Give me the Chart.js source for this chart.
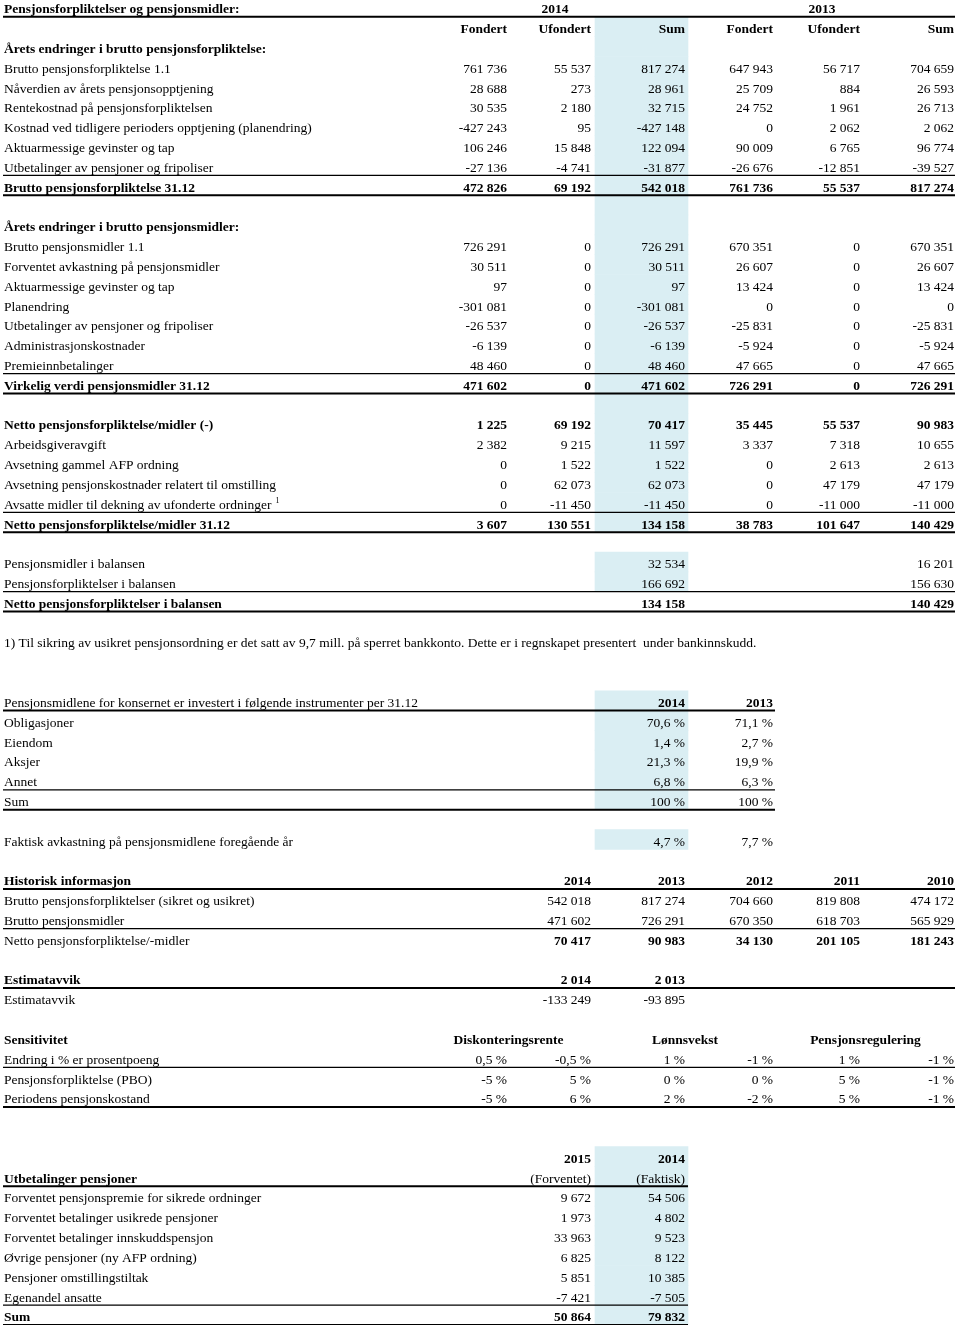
<!DOCTYPE html>
<html lang="no">
<head>
<meta charset="UTF-8" />
<title>Pensjonsforpliktelser og pensjonsmidler</title>
<script src="https://cdn.jsdelivr.net/npm/chart.js"></script>
<style>
    body { margin: 0; background: #fff; overflow: hidden; }
    #wrap { position: absolute; left: 0; top: -3px; width: 960px; height: 1328px; }
</style>
</head>
<body>
<div id="wrap"><canvas id="table"></canvas></div>
<script>
// --- data ---
const title = 'Pensjonsforpliktelser og pensjonsmidler:';
const hdrYears = ['2014', '2013'];
const colHeads = ['Fondert', 'Ufondert', 'Sum', 'Fondert', 'Ufondert', 'Sum'];

const oblLabels = ['Brutto pensjonsforpliktelse 1.1', 'Nåverdien av årets pensjonsopptjening',
    'Rentekostnad på pensjonsforpliktelsen', 'Kostnad ved tidligere perioders opptjening (planendring)',
    'Aktuarmessige gevinster og tap', 'Utbetalinger av pensjoner og fripoliser', 'Brutto pensjonsforpliktelse 31.12'];
const oblFondert14 = [761736, 28688, 30535, -427243, 106246, -27136, 472826];
const oblUfondert14 = [55537, 273, 2180, 95, 15848, -4741, 69192];
const oblSum14 = [817274, 28961, 32715, -427148, 122094, -31877, 542018];
const oblFondert13 = [647943, 25709, 24752, 0, 90009, -26676, 761736];
const oblUfondert13 = [56717, 884, 1961, 2062, 6765, -12851, 55537];
const oblSum13 = [704659, 26593, 26713, 2062, 96774, -39527, 817274];

const midLabels = ['Brutto pensjonsmidler 1.1', 'Forventet avkastning på pensjonsmidler', 'Aktuarmessige gevinster og tap',
    'Planendring', 'Utbetalinger av pensjoner og fripoliser', 'Administrasjonskostnader', 'Premieinnbetalinger',
    'Virkelig verdi pensjonsmidler 31.12'];
const midFondert14 = [726291, 30511, 97, -301081, -26537, -6139, 48460, 471602];
const midUfondert14 = [0, 0, 0, 0, 0, 0, 0, 0];
const midSum14 = [726291, 30511, 97, -301081, -26537, -6139, 48460, 471602];
const midFondert13 = [670351, 26607, 13424, 0, -25831, -5924, 47665, 726291];
const midUfondert13 = [0, 0, 0, 0, 0, 0, 0, 0];
const midSum13 = [670351, 26607, 13424, 0, -25831, -5924, 47665, 726291];

const netLabels = ['Netto pensjonsforpliktelse/midler (-)', 'Arbeidsgiveravgift', 'Avsetning gammel AFP ordning',
    'Avsetning pensjonskostnader relatert til omstilling', 'Avsatte midler til dekning av ufonderte ordninger',
    'Netto pensjonsforpliktelse/midler 31.12'];
const netFondert14 = [1225, 2382, 0, 0, 0, 3607];
const netUfondert14 = [69192, 9215, 1522, 62073, -11450, 130551];
const netSum14 = [70417, 11597, 1522, 62073, -11450, 134158];
const netFondert13 = [35445, 3337, 0, 0, 0, 38783];
const netUfondert13 = [55537, 7318, 2613, 47179, -11000, 101647];
const netSum13 = [90983, 10655, 2613, 47179, -11000, 140429];

const balLabels = ['Pensjonsmidler i balansen', 'Pensjonsforpliktelser i balansen', 'Netto pensjonsforpliktelser i balansen'];
const bal2014 = [32534, 166692, 134158];
const bal2013 = [16201, 156630, 140429];

const footnote = '1) Til sikring av usikret pensjonsordning er det satt av 9,7 mill. på sperret bankkonto. Dette er i regnskapet presentert  under bankinnskudd.';

const instTitle = 'Pensjonsmidlene for konsernet er investert i følgende instrumenter per 31.12';
const instLabels = ['Obligasjoner', 'Eiendom', 'Aksjer', 'Annet', 'Sum'];
const inst2014 = [70.6, 1.4, 21.3, 6.8, 100];
const inst2013 = [71.1, 2.7, 19.9, 6.3, 100];
const returnLabel = 'Faktisk avkastning på pensjonsmidlene foregående år';
const returnPct = [4.7, 7.7];

const histYears = [2014, 2013, 2012, 2011, 2010];
const histLabels = ['Brutto pensjonsforpliktelser (sikret og usikret)', 'Brutto pensjonsmidler', 'Netto pensjonsforpliktelse/-midler'];
const histObligations = [542018, 817274, 704660, 819808, 474172];
const histAssets = [471602, 726291, 670350, 618703, 565929];
const histNet = [70417, 90983, 34130, 201105, 181243];

const estYears = [2014, 2013];
const estValues = [-133249, -93895];

const sensGroups = ['Diskonteringsrente', 'Lønnsvekst', 'Pensjonsregulering'];
const sensLabels = ['Endring i % er prosentpoeng', 'Pensjonsforpliktelse (PBO)', 'Periodens pensjonskostand'];
const sensChange = [0.5, -0.5, 1, -1, 1, -1];
const sensPBO = [-5, 5, 0, 0, 5, -1];
const sensCost = [-5, 6, 2, -2, 5, -1];

const payYears = ['2015', '2014'];
const payKinds = ['(Forventet)', '(Faktisk)'];
const payLabels = ['Forventet pensjonspremie for sikrede ordninger', 'Forventet betalinger usikrede pensjoner',
    'Forventet betalinger innskuddspensjon', 'Øvrige pensjoner (ny AFP ordning)', 'Pensjoner omstillingstiltak',
    'Egenandel ansatte', 'Sum'];
const pay2015 = [9672, 1973, 33963, 6825, 5851, -7421, 50864];
const pay2014 = [54506, 4802, 9523, 8122, 10385, -7505, 79832];

// --- layout (table units on the x scale) ---
const COL_RIGHT = [507, 591, 685, 773, 860, 954];
const COL_EDGE = [422, 510, 595, 688, 775, 863, 956];
const FULL = 955, MID = 775, SHORT = 688;
const THIN = 1.3, THICK = 2;

function fmt(n) {
    const s = String(Math.abs(n)).replace(/\B(?=(\d{3})+(?!\d))/g, ' ');
    return (n < 0 ? '-' : '') + s;
}
function pct(v) {
    return String(v).replace('.', ',') + ' %';
}

const rows = [];
function addRow(label, cells, opt) {
    rows.push(Object.assign({ label: label, cells: cells || [] }, opt || {}));
}
function cell(col, text, bold) {
    return { col: col, text: text, bold: !!bold };
}
function span(a, b, text, bold) {
    return { span: [a, b], text: text, bold: !!bold };
}

addRow(title, [span(0, 2, hdrYears[0], true), span(3, 5, hdrYears[1], true)], { bold: true, rule: [FULL, THICK] });
addRow('', colHeads.map((t, k) => cell(k, t, true)), { blue: true });
addRow('Årets endringer i brutto pensjonsforpliktelse:', [], { bold: true, blue: true });
oblLabels.forEach((l, i) => {
    const tot = i === oblLabels.length - 1;
    const cols = [oblFondert14, oblUfondert14, oblSum14, oblFondert13, oblUfondert13, oblSum13];
    addRow(l, cols.map((a, k) => cell(k, fmt(a[i]), tot)),
        { bold: tot, blue: true, rule: tot ? [FULL, THICK] : i === oblLabels.length - 2 ? [FULL, THIN] : null });
});
addRow('', [], { blue: true });
addRow('Årets endringer i brutto pensjonsmidler:', [], { bold: true, blue: true });
midLabels.forEach((l, i) => {
    const tot = i === midLabels.length - 1;
    const cols = [midFondert14, midUfondert14, midSum14, midFondert13, midUfondert13, midSum13];
    addRow(l, cols.map((a, k) => cell(k, fmt(a[i]), tot)),
        { bold: tot, blue: true, rule: tot ? [FULL, THICK] : i === midLabels.length - 2 ? [FULL, THIN] : null });
});
addRow('', [], { blue: true });
netLabels.forEach((l, i) => {
    const tot = i === netLabels.length - 1;
    const cols = [netFondert14, netUfondert14, netSum14, netFondert13, netUfondert13, netSum13];
    addRow(l, cols.map((a, k) => cell(k, fmt(a[i]), tot || i === 0)),
        { bold: tot || i === 0, blue: true, sup: i === 4 ? '1' : null,
          rule: tot ? [FULL, THICK] : i === netLabels.length - 2 ? [FULL, THIN] : null });
});
addRow('');
balLabels.forEach((l, i) => {
    const tot = i === balLabels.length - 1;
    addRow(l, [cell(2, fmt(bal2014[i]), tot), cell(5, fmt(bal2013[i]), tot)],
        { bold: tot, blue: !tot, rule: tot ? [FULL, THICK] : i === 1 ? [FULL, THIN] : null });
});
addRow('');
addRow(footnote);
addRow('');
addRow('');
addRow(instTitle, [cell(2, hdrYears[0], true), cell(3, hdrYears[1], true)], { blue: true, rule: [MID, THICK] });
instLabels.forEach((l, i) => {
    const tot = i === instLabels.length - 1;
    addRow(l, [cell(2, pct(inst2014[i])), cell(3, pct(inst2013[i]))],
        { blue: true, rule: tot ? [MID, THICK] : i === instLabels.length - 2 ? [MID, THIN] : null });
});
addRow('');
addRow(returnLabel, [cell(2, pct(returnPct[0])), cell(3, pct(returnPct[1]))], { blue: true });
addRow('');
addRow('Historisk informasjon', histYears.map((y, k) => cell(k + 1, String(y), true)), { bold: true, rule: [FULL, THICK] });
[histObligations, histAssets, histNet].forEach((a, i) => {
    const tot = i === 2;
    addRow(histLabels[i], a.map((v, k) => cell(k + 1, fmt(v), tot)), { rule: i === 1 ? [FULL, THIN] : null });
});
addRow('');
addRow('Estimatavvik', estYears.map((y, k) => cell(k + 1, fmt(y), true)), { bold: true, rule: [FULL, THICK] });
addRow('Estimatavvik', estValues.map((v, k) => cell(k + 1, fmt(v))));
addRow('');
addRow('Sensitivitet', sensGroups.map((g, k) => span(k * 2, k * 2 + 1, g, true)), { bold: true });
[sensChange, sensPBO, sensCost].forEach((a, i) => {
    addRow(sensLabels[i], a.map((v, k) => cell(k, pct(v))),
        { rule: i === 0 ? [FULL, THIN] : i === 2 ? [FULL, THICK] : null });
});
addRow('');
addRow('');
addRow('', payYears.map((y, k) => cell(k + 1, y, true)), { blue: true });
addRow('Utbetalinger pensjoner', payKinds.map((t, k) => cell(k + 1, t)), { bold: true, blue: true, rule: [SHORT, THICK] });
payLabels.forEach((l, i) => {
    const tot = i === payLabels.length - 1;
    addRow(l, [cell(1, fmt(pay2015[i]), tot), cell(2, fmt(pay2014[i]), tot)],
        { bold: tot, blue: true, rule: tot ? [SHORT, THICK] : i === payLabels.length - 2 ? [SHORT, THIN] : null });
});

// --- text + rules drawn on the chart's scales ---
const FONT = '13.5px "Liberation Serif", "Times New Roman", serif';
const tablePlugin = {
    id: 'tableText',
    afterDatasetsDraw(chart) {
        const { ctx, scales: { x, y } } = chart;
        const h = y.getPixelForValue(1) - y.getPixelForValue(0);
        ctx.save();
        ctx.fillStyle = '#000';
        ctx.strokeStyle = '#000';
        rows.forEach((r, i) => {
            const bottom = y.getPixelForValue(i) + h / 2;
            const base = bottom - 3.6;
            ctx.font = (r.bold ? 'bold ' : '') + FONT;
            ctx.textAlign = 'left';
            ctx.fillText(r.label, x.getPixelForValue(4), base);
            if (r.sup) {
                const w = ctx.measureText(r.label).width;
                ctx.font = '8px "Liberation Serif", serif';
                ctx.fillText(r.sup, x.getPixelForValue(4) + w + 4, base - 6);
            }
            r.cells.forEach((c) => {
                ctx.font = (c.bold ? 'bold ' : '') + FONT;
                if (c.span) {
                    ctx.textAlign = 'center';
                    const mid = (COL_EDGE[c.span[0]] + COL_EDGE[c.span[1] + 1]) / 2;
                    ctx.fillText(c.text, x.getPixelForValue(mid), base);
                } else {
                    ctx.textAlign = 'right';
                    ctx.fillText(c.text, x.getPixelForValue(COL_RIGHT[c.col]), base);
                }
            });
            if (r.rule) {
                ctx.lineWidth = r.rule[1];
                ctx.beginPath();
                ctx.moveTo(x.getPixelForValue(3), bottom);
                ctx.lineTo(x.getPixelForValue(r.rule[0]), bottom);
                ctx.stroke();
            }
        });
        ctx.restore();
    }
};

new Chart(document.getElementById('table'), {
    type: 'bar',
    data: {
        labels: rows.map((r) => r.label),
        datasets: [
            {
                // highlighted 2014 column
                data: rows.map((r) => (r.blue ? [COL_EDGE[2], COL_EDGE[3]] : null)),
                backgroundColor: '#daeef3',
                borderWidth: 0,
                categoryPercentage: 1,
                barPercentage: 1,
            },
        ],
    },
    options: {
        indexAxis: 'y',
        responsive: true,
        maintainAspectRatio: false,
        animation: false,
        layout: { padding: 0 },
        plugins: { legend: { display: false }, tooltip: { enabled: false } },
        scales: {
            x: { type: 'linear', min: 0, max: 960, display: false },
            y: { display: false },
        },
    },
    plugins: [tablePlugin],
});
</script>
</body>
</html>
